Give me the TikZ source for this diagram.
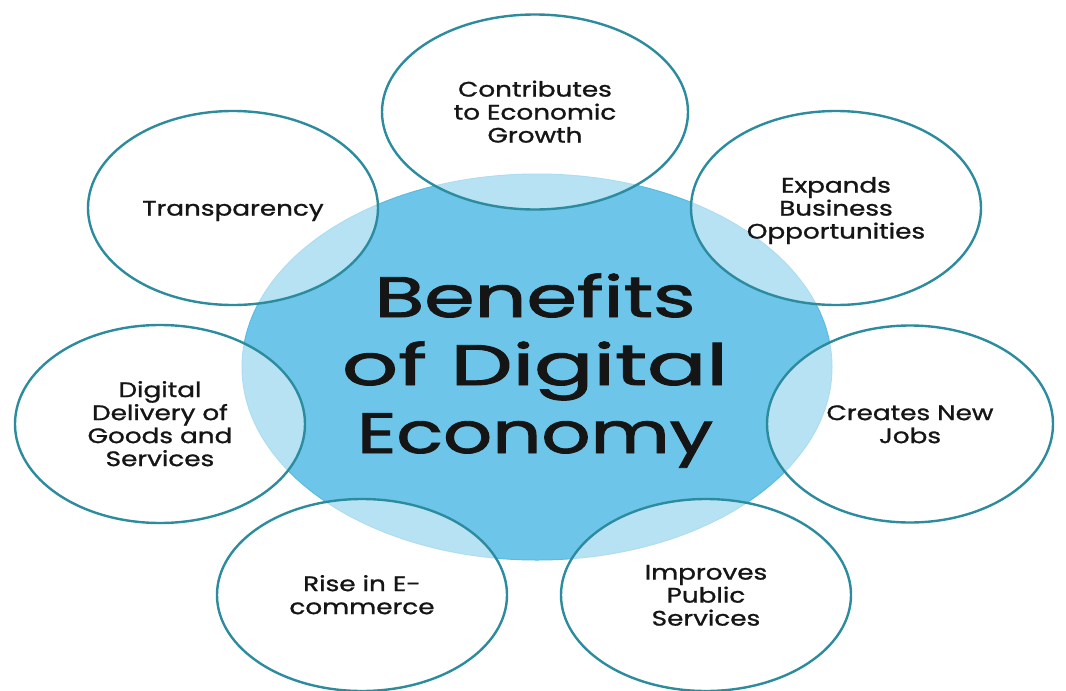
\documentclass[tikz,border=0pt]{standalone}
\usepackage{fontspec}
\setmainfont{Poppins}
\newfontfamily\titlefont{Poppins}[FakeBold=1.6]
\newfontfamily\bubfont{Poppins}[FakeBold=1.0]
\usepackage{graphicx}
\usetikzlibrary{shapes.geometric}
\definecolor{corefill}{HTML}{6DC6E9}
\definecolor{coreedge}{HTML}{5CBBE0}
\definecolor{ringcol}{HTML}{2C8C9E}
\definecolor{inkcol}{HTML}{151515}
\newcommand\bubtext[1]{\raisebox{0pt}[\height][\dimexpr\depth-6pt\relax]{\scalebox{1.25}[1]{\begin{tabular}{@{}c@{}}#1\end{tabular}}}}
\newcommand\wline[2]{\resizebox{#1}{\height}{#2}}
\begin{document}
\begin{tikzpicture}[x=1pt,y=-1pt,
  corebox/.style={ellipse, fill=corefill, draw=coreedge, line width=1pt, inner sep=0pt, outer sep=0pt},
  bubble/.style={ellipse, draw=ringcol, line width=2.4pt, fill=white, fill opacity=0.5, text opacity=1,
    text=inkcol, inner sep=0pt, outer sep=0pt, minimum width=290pt, minimum height=194pt,
    font=\bubfont\fontsize{21}{23}\selectfont},
  titletext/.style={text=inkcol, inner sep=0pt, font=\titlefont\fontsize{57}{68}\selectfont}]
\useasboundingbox (0,0) rectangle (1066,691);
\fill[white] (0,0) rectangle (1066,691);
\node[corebox, minimum width=590pt, minimum height=386pt] (core) at (537,367) {};
\node[bubble, minimum width=306pt, minimum height=195pt] (growth) at (535,112) {\bubtext{Contributes\\to Economic\\Growth}};
\node[bubble] (transp) at (233,208) {\bubtext{Transparency}};
\node[bubble] (expand) at (836,208) {\bubtext{Expands\\Business\\Opportunities}};
\node[bubble, minimum width=286pt, minimum height=197pt] (jobs) at (910,424) {\bubtext{Creates New\\Jobs}};
\node[bubble, minimum width=290pt, minimum height=198pt] (deliv) at (160,424) {\bubtext{Digital\\Delivery of\\Goods and\\Services}};
\node[bubble, minimum height=192pt] (ecom) at (362,595) {\bubtext{Rise in E-\\commerce}};
\node[bubble, minimum height=192pt] (public) at (706,595) {\bubtext{Improves\\Public\\Services}};
\node[titletext, anchor=base] (title) at (535,317) {\begin{tabular}[t]{@{}c@{}}\wline{321pt}{Benefits}\\\wline{386pt}{of Digital}\\\wline{356pt}{Economy}\end{tabular}};
\end{tikzpicture}
\end{document}
